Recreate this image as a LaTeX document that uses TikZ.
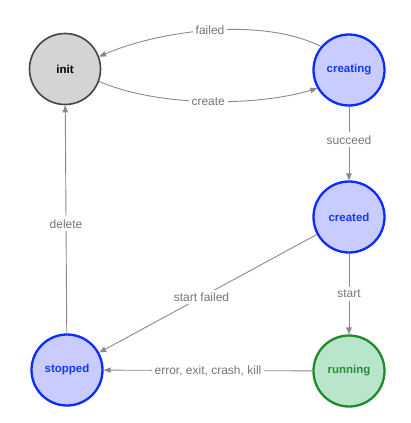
\documentclass[tikz,border=0pt]{standalone}
\usepackage{fontspec}
\setmainfont{Liberation Sans}
\usetikzlibrary{arrows.meta}
\definecolor{edgegray}{HTML}{8A8A8A}
\definecolor{labgray}{HTML}{767676}
\definecolor{bluebd}{HTML}{0A2CFF}
\definecolor{bluefill}{HTML}{C9CCFF}
\definecolor{bluetext}{HTML}{1838F0}
\definecolor{greenbd}{HTML}{1F8A2E}
\definecolor{greenfill}{HTML}{B9E6CB}
\definecolor{greentext}{HTML}{2A8A3A}
\definecolor{grayfill}{HTML}{D4D4D4}
\definecolor{graybd}{HTML}{444444}
\tikzset{
  state/.style={circle, inner sep=0pt, minimum size=71pt, font=\fontsize{11.5}{13}\selectfont\bfseries},
  graystate/.style={state, draw=graybd, fill=grayfill, line width=1.6pt, text=black},
  bluestate/.style={state, draw=bluebd, fill=bluefill, line width=2.3pt, text=bluetext},
  greenstate/.style={state, draw=greenbd, fill=greenfill, line width=2.3pt, text=greentext},
  edge/.style={draw=edgegray, line width=0.9pt, -{Triangle[length=7pt,width=5.5pt]}},
  elabel/.style={fill=white, inner sep=3pt, text=labgray, font=\fontsize{12}{14}\selectfont}
}
\begin{document}
\begin{tikzpicture}[x=1pt,y=1pt]
\useasboundingbox (0,0) rectangle (411,-423);
\node[graystate] (init) at (65,-69) {init};
\node[bluestate] (creating) at (349,-70) {creating};
\node[bluestate] (created) at (349,-217) {created};
\node[greenstate] (running) at (349,-371) {running};
\node[bluestate] (stopped) at (67,-370) {stopped};

\draw[edge] (creating.140) .. controls +(-60,30) and +(60,26) .. node[elabel]{failed} (init.20);
\draw[edge] (init.-20) .. controls +(60,-26) and +(-60,-18) .. node[elabel]{create} (creating.-150);
\draw[edge] (creating) -- node[elabel, pos=0.45]{succeed} (created);
\draw[edge] (created) -- node[elabel]{start} (running);
\draw[edge] (created) -- node[elabel, pos=0.53]{start failed} (stopped);
\draw[edge] (running) -- node[elabel]{error, exit, crash, kill} (stopped);
\draw[edge] (stopped) -- node[elabel, pos=0.48]{delete} (init);
\end{tikzpicture}
\end{document}
